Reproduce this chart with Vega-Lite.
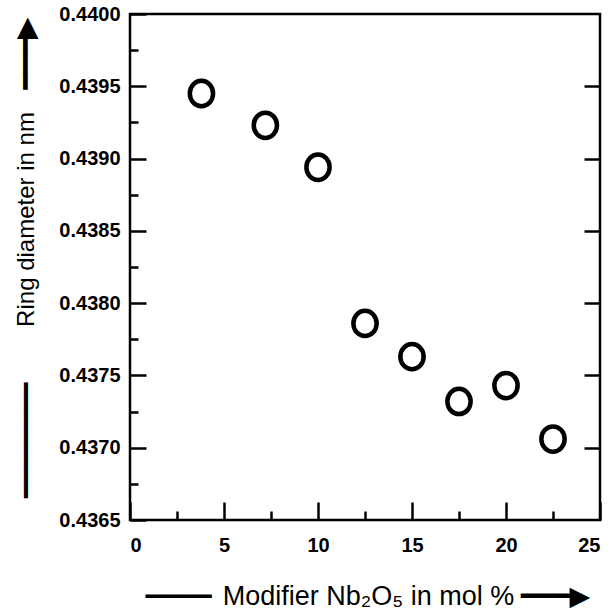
{
  "$schema": "https://vega.github.io/schema/vega-lite/v6.json",
  "width": 470,
  "height": 506,
  "autosize": "none",
  "padding": {"left": 130, "top": 14, "right": 16, "bottom": 91},
  "background": "white",
  "config": {
    "view": {"stroke": "black", "strokeWidth": 2.5},
    "axis": {"grid": false, "domain": false, "tickColor": "black", "tickWidth": 2.5, "labelColor": "black", "titleColor": "black", "labelFont": "Liberation Sans", "titleFont": "Liberation Sans", "titleFontWeight": "normal", "titleAlign": "center", "titleBaseline": "middle"}
  },
  "data": {
    "values": [
      {"mol": 3.8, "d": 0.43945},
      {"mol": 7.2, "d": 0.43923},
      {"mol": 10.0, "d": 0.43894},
      {"mol": 12.5, "d": 0.43786},
      {"mol": 15.0, "d": 0.43763},
      {"mol": 17.5, "d": 0.43732},
      {"mol": 20.0, "d": 0.43743},
      {"mol": 22.5, "d": 0.43706}
    ]
  },
  "layer": [
    {
      "mark": {"type": "point", "shape": "M0,-1A0.92,1 0 1,1 0,1A0.92,1 0 1,1 0,-1Z", "size": 640, "filled": false, "stroke": "black", "strokeWidth": 4.5, "opacity": 1},
      "encoding": {
        "x": {"field": "mol", "type": "quantitative", "scale": {"domain": [0, 25], "nice": false, "zero": false},
          "axis": {"orient": "bottom", "values": [0, 5, 10, 15, 20, 25], "tickSize": -18, "labelPadding": 33, "labelFontSize": 20, "labelFontWeight": "bold", "format": "d",
            "title": "Modifier Nb₂O₅ in mol %", "titleFontSize": 27, "titleX": 238, "titleY": 76}},
        "y": {"field": "d", "type": "quantitative", "scale": {"domain": [0.4365, 0.44], "nice": false, "zero": false},
          "axis": {"orient": "left", "values": [0.4365, 0.437, 0.4375, 0.438, 0.4385, 0.439, 0.4395, 0.44], "tickSize": -16, "labelPadding": 26, "labelFontSize": 20, "labelFontWeight": "bold", "format": ".4f",
            "title": "Ring diameter in nm", "titleFontSize": 24, "titleX": -104, "titleY": 205, "titleAngle": 270}}
      }
    },
    {
      "mark": {"type": "point", "opacity": 0},
      "encoding": {
        "x": {"field": "mol", "type": "quantitative",
          "axis": {"orient": "bottom", "values": [2.5, 7.5, 12.5, 17.5, 22.5], "tickSize": -9, "labels": false,
            "title": "━━━━━", "titleFont": "DejaVu Sans", "titleFontSize": 22, "titleX": 48, "titleY": 76}},
        "y": {"field": "d", "type": "quantitative",
          "axis": {"orient": "left", "values": [0.43675, 0.43725, 0.43775, 0.43825, 0.43875, 0.43925, 0.43975], "tickSize": -8, "labels": false,
            "title": "━━━━━━━━", "titleFont": "DejaVu Sans", "titleFontSize": 24, "titleX": -104, "titleY": 426, "titleAngle": 270}}
      }
    },
    {
      "mark": {"type": "point", "opacity": 0},
      "encoding": {
        "x": {"field": "mol", "type": "quantitative",
          "axis": {"orient": "bottom", "ticks": false, "labels": false,
            "title": "━━━▶", "titleFont": "DejaVu Sans", "titleFontSize": 27, "titleX": 425, "titleY": 76}},
        "y": {"field": "d", "type": "quantitative",
          "axis": {"orient": "right", "values": [0.437, 0.4375, 0.438, 0.4385, 0.439, 0.4395], "tickSize": -16, "labels": false,
            "title": "━━━▶", "titleFont": "DejaVu Sans", "titleFontSize": 28, "titleX": -574, "titleY": 39, "titleAngle": 270}}
      }
    }
  ],
  "resolve": {"axis": {"x": "independent", "y": "independent"}}
}
